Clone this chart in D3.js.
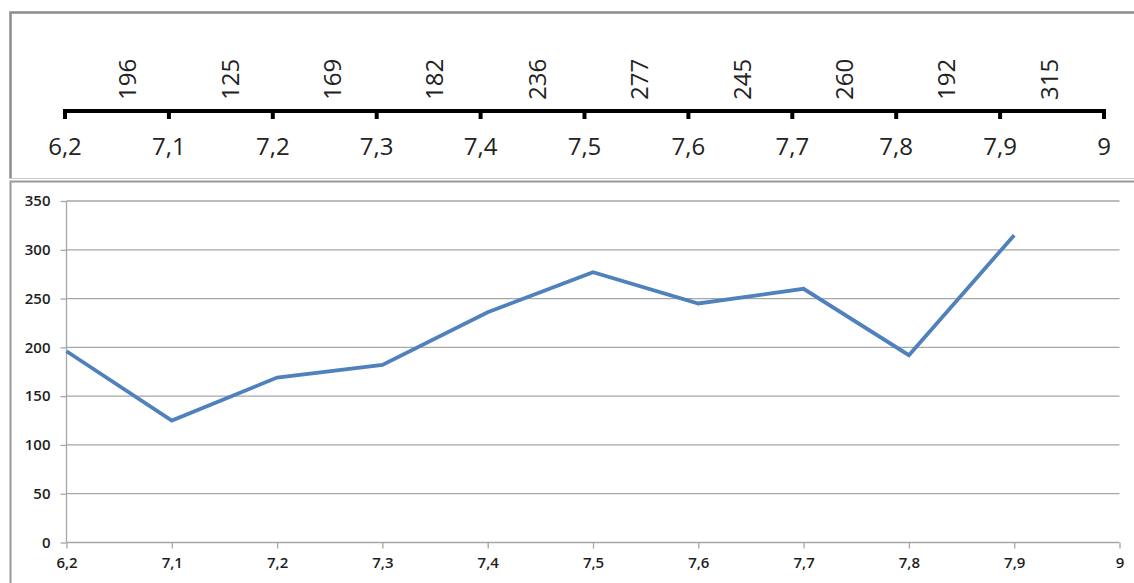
<!DOCTYPE html>
<html>
<head>
<meta charset="utf-8">
<script src="https://cdn.jsdelivr.net/npm/d3@7"></script>
<style>
  html, body { margin: 0; padding: 0; background: #fff; }
  svg { display: block; }
</style>
</head>
<body>
<svg id="chart" width="1134" height="583"></svg>
<script>
// Category labels along both axes (the last one carries no value)
const categories = ["6,2", "7,1", "7,2", "7,3", "7,4", "7,5", "7,6", "7,7", "7,8", "7,9", "9"];
// Value recorded for each interval starting at the matching category
const values = [196, 125, 169, 182, 236, 277, 245, 260, 192, 315];
// Gridline values on the lower chart
const yTicks = [0, 50, 100, 150, 200, 250, 300, 350];

const svg = d3.select("#chart");
const W = 1134;
const FONT = "'Open Sans', 'Noto Sans', sans-serif";

/* ---------- frames ---------- */
svg.append("path")
  .attr("d", "M10.5,178.5 V12.5 H1134")
  .attr("fill", "none").attr("stroke", "#8c8c8c").attr("stroke-width", 2.5);
svg.append("line")
  .attr("x1", 10).attr("x2", W).attr("y1", 178.5).attr("y2", 178.5)
  .attr("stroke", "#c8c8c8").attr("stroke-width", 1.2);
svg.append("path")
  .attr("d", "M10.5,583 V181.5 H1134")
  .attr("fill", "none").attr("stroke", "#9a9a9a").attr("stroke-width", 2);

/* ---------- upper panel: interval scale with values ---------- */
const xTop = d3.scalePoint().domain(categories).range([65, 1104]);
// one slot per interval for the rotated value labels
const xVal = d3.scaleBand().domain(d3.range(values.length)).range([76, 1100]);
const topAxisY = 111;

const topG = svg.append("g");
topG.append("line")
  .attr("x1", xTop(categories[0]) - 2).attr("x2", xTop(categories[categories.length - 1]) + 2)
  .attr("y1", topAxisY).attr("y2", topAxisY)
  .attr("stroke", "#000").attr("stroke-width", 4);
topG.selectAll("line.tk").data(categories).enter().append("line")
  .attr("class", "tk")
  .attr("x1", d => xTop(d)).attr("x2", d => xTop(d))
  .attr("y1", topAxisY).attr("y2", topAxisY + 8)
  .attr("stroke", "#000").attr("stroke-width", 4);
topG.selectAll("text.cat").data(categories).enter().append("text")
  .attr("class", "cat")
  .attr("x", d => xTop(d)).attr("y", 155)
  .attr("text-anchor", "middle")
  .attr("font-family", FONT)
  .attr("font-size", 24)
  .attr("fill", "#222")
  .text(d => d);
topG.selectAll("text.val").data(values).enter().append("text")
  .attr("class", "val")
  .attr("transform", (d, i) => {
    const cx = xVal(i) + xVal.bandwidth() / 2;
    return `translate(${cx + 9},100) rotate(-90)`;
  })
  .attr("text-anchor", "start")
  .attr("font-family", FONT)
  .attr("font-size", 24)
  .attr("fill", "#222")
  .text(d => d);

/* ---------- lower panel: line chart ---------- */
const x = d3.scalePoint().domain(categories).range([66.5, 1119.5]);
const y = d3.scaleLinear().domain([0, 350]).range([542.5, 201]);

const plot = svg.append("g");

// horizontal gridlines
plot.selectAll("line.grid").data(yTicks.filter(v => v > 0)).enter().append("line")
  .attr("class", "grid")
  .attr("x1", x.range()[0]).attr("x2", x.range()[1])
  .attr("y1", d => y(d)).attr("y2", d => y(d))
  .attr("stroke", "#a6a6a6").attr("stroke-width", 1.3);

// y axis
const yAxis = d3.axisLeft(y).tickValues(yTicks).tickSize(6).tickPadding(10);
const gy = plot.append("g").attr("transform", `translate(${x.range()[0]},0)`).call(yAxis);
gy.select(".domain").attr("stroke", "#a6a6a6").attr("stroke-width", 1.3).attr("d", `M0,${y(0)}V${y(350)}`);
gy.selectAll(".tick line").attr("stroke", "#a6a6a6").attr("stroke-width", 1.3);
gy.selectAll(".tick text")
  .attr("font-family", FONT).attr("font-weight", 600)
  .attr("font-size", 15).attr("fill", "#1e1e1e");

// x axis
const xAxis = d3.axisBottom(x).tickSize(6).tickPadding(9);
const gx = plot.append("g").attr("transform", `translate(0,${y(0)})`).call(xAxis);
gx.select(".domain").attr("stroke", "#a6a6a6").attr("stroke-width", 1.3)
  .attr("d", `M${x.range()[0]},0H${x.range()[1]}`);
gx.selectAll(".tick line").attr("stroke", "#a6a6a6").attr("stroke-width", 1.3);
gx.selectAll(".tick text")
  .attr("font-family", FONT).attr("font-weight", 600)
  .attr("font-size", 15).attr("fill", "#1e1e1e");

// data line
const line = d3.line()
  .x((d, i) => x(categories[i]))
  .y(d => y(d));
plot.append("path")
  .datum(values)
  .attr("d", line)
  .attr("fill", "none")
  .attr("stroke", "#4f81bd")
  .attr("stroke-width", 3.8)
  .attr("stroke-linejoin", "miter");
</script>
</body>
</html>
